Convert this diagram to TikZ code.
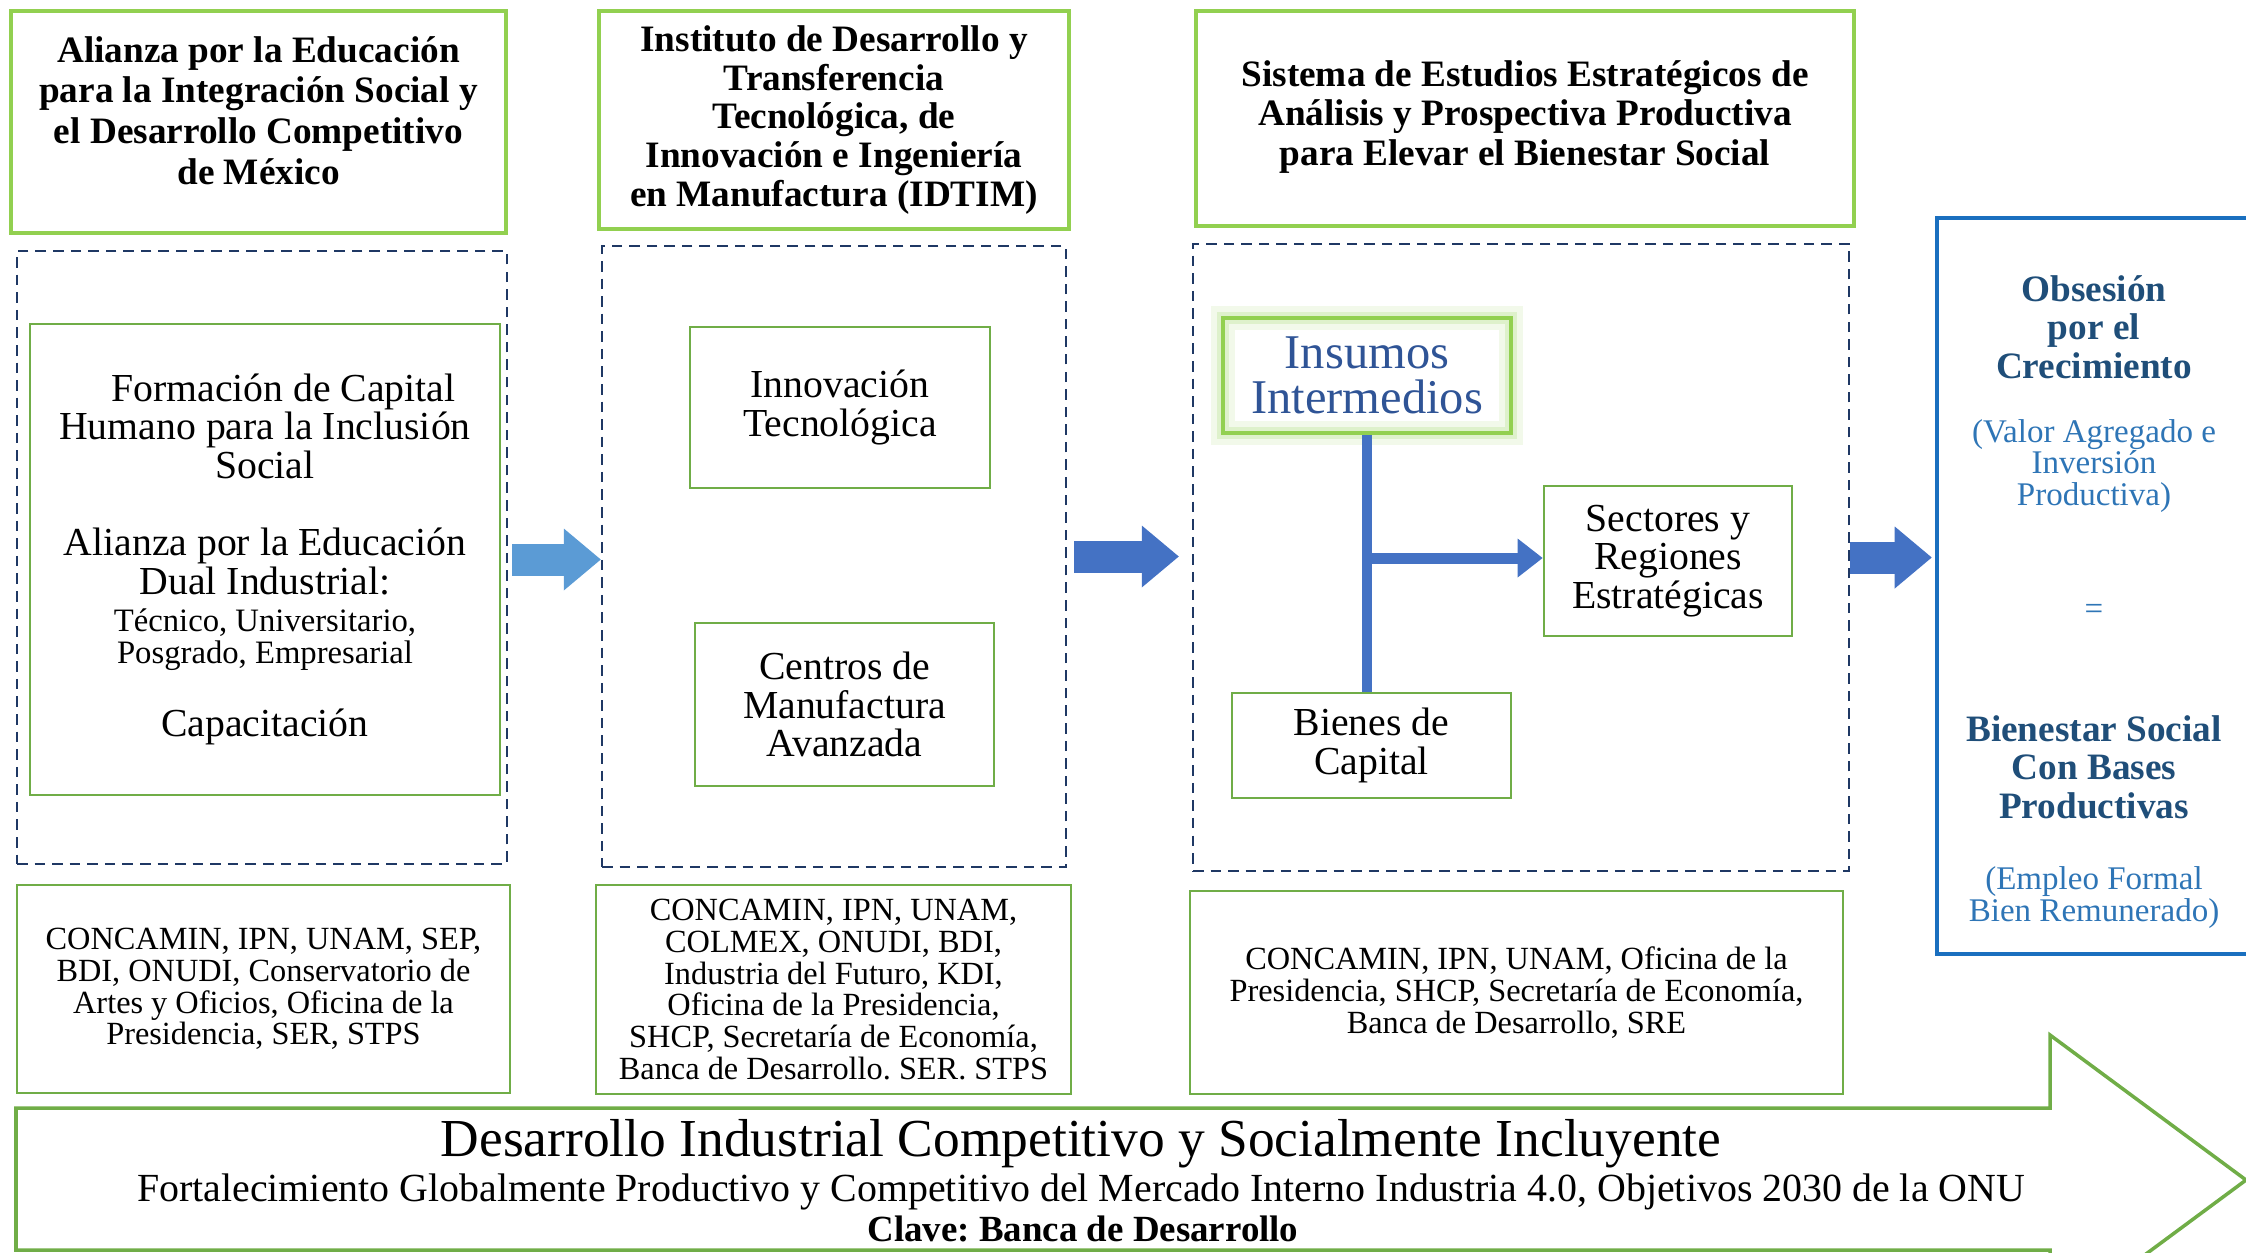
\documentclass[tikz,border=0pt]{standalone}
\usepackage{fontspec}
\setmainfont{Liberation Serif}
\usepackage{xcolor}
\definecolor{DIlime}{HTML}{92D050}
\definecolor{DIgreen}{HTML}{70AD47}
\definecolor{DInavy}{HTML}{1F3864}
\definecolor{DIsky}{HTML}{5B9BD5}
\definecolor{DIblue}{HTML}{4472C4}
\definecolor{DIframe}{HTML}{1A6FBF}
\definecolor{DIdeep}{HTML}{1F4E79}
\definecolor{DItext}{HTML}{2E75B6}
\definecolor{DIins}{HTML}{2F5496}
\usetikzlibrary{arrows.meta, calc}
\frenchspacing

\begin{document}
\begin{tikzpicture}[
    headbox/.style={draw=DIlime, line width=0.9pt, align=center, inner sep=2pt,
      font=\fontsize{10.6}{11.6}\selectfont\bfseries},
    dashbox/.style={draw=DInavy, line width=0.7pt, dash pattern=on 3pt off 2pt},
    itembox/.style={draw=DIgreen, line width=0.8pt, align=center, inner sep=2pt,
      font=\fontsize{11.3}{11}\selectfont},
    orgbox/.style={draw=DIgreen, line width=0.8pt, align=center, inner sep=2pt,
      font=\fontsize{9.2}{9}\selectfont},
    glow/.style={preaction={draw=DIlime!12, line width=7pt},
      preaction={draw=DIlime!30, line width=3.5pt}},
    flowarrow/.style={line width=0.32cm,
      -{Triangle[length=0.37cm, width=0.62cm, line width=0pt]}},
    branch/.style={DIblue, line width=0.10cm},
    brancharrow/.style={DIblue, line width=0.11cm,
      -{Triangle[length=0.25cm, width=0.39cm, line width=0pt]}},
    goaltext/.style={align=center, text=DIdeep, font=\fontsize{10.6}{11}\selectfont\bfseries},
    goalnote/.style={align=center, text=DItext, font=\fontsize{9.4}{9}\selectfont}
  ]
    \useasboundingbox (0,0) rectangle (22.46,-12.52);
    \clip (0,0) rectangle (22.46,-12.52);

    % titles
    \node[headbox, minimum width=4.95cm, minimum height=2.22cm] (H1) at (2.585,-1.22)
      {Alianza por la Educación\\ para la Integración Social y\\
       el Desarrollo Competitivo\\ de México\\[-5pt]{}};
    \node[headbox, minimum width=4.70cm, minimum height=2.18cm,
      font=\fontsize{10.6}{11}\selectfont\bfseries] (H2) at (8.34,-1.20)
      {Instituto de Desarrollo y\\ Transferencia\\ Tecnológica, de\\
       Innovación e Ingeniería\\ en Manufactura (IDTIM)};
    \node[headbox, minimum width=6.58cm, minimum height=2.15cm,
      font=\fontsize{10.6}{11.2}\selectfont\bfseries] (H3) at (15.25,-1.185)
      {Sistema de Estudios Estratégicos de\\ Análisis y Prospectiva Productiva\\
       para Elevar el Bienestar Social\\[-8pt]{}};

    % dashed groups
    \node[dashbox, minimum width=4.90cm, minimum height=6.13cm] (D1) at (2.62,-5.575) {};
    \node[dashbox, minimum width=4.64cm, minimum height=6.21cm] (D2) at (8.34,-5.565) {};
    \node[dashbox, minimum width=6.56cm, minimum height=6.27cm] (D3) at (15.21,-5.575) {};

    % contents
    \node[itembox, minimum width=4.70cm, minimum height=4.71cm] (form) at (2.65,-5.595)
      {\hspace*{0.37cm}Formación de Capital\\ Humano para la Inclusión\\ Social\\[11pt]
       Alianza por la Educación\\ Dual Industrial:\\[-0.5pt]
       {\fontsize{9.3}{9}\selectfont Técnico, Universitario,}\\[-2pt]
       {\fontsize{9.3}{9}\selectfont Posgrado, Empresarial}\\[10pt]
       Capacitación};
    \node[itembox, minimum width=3.00cm, minimum height=1.61cm] (innov) at (8.40,-4.075)
      {Innovación\\ Tecnológica};
    \node[itembox, minimum width=2.99cm, minimum height=1.63cm] (centros) at (8.445,-7.045)
      {Centros de\\ Manufactura\\ Avanzada};
    \node[itembox, glow, draw=DIlime, line width=1pt, minimum width=2.88cm,
      minimum height=1.15cm, text=DIins, font=\fontsize{13.8}{13}\selectfont] (ins)
      at (13.67,-3.755) {Insumos\\ Intermedios};
    \node[itembox, minimum width=2.48cm, minimum height=1.50cm] (sec) at (16.68,-5.61)
      {Sectores y\\ Regiones\\ Estratégicas};
    \node[itembox, minimum width=2.79cm, minimum height=1.05cm] (bien) at (13.715,-7.455)
      {Bienes de\\ Capital};

    \draw[branch] (ins.south) -- (ins.south |- bien.north);
    \coordinate (tj) at ($(ins.south |- sec.west)+(0,0.03)$);
    \draw[brancharrow] (tj) -- (tj -| sec.west);

    % participants
    \node[orgbox, minimum width=4.93cm, minimum height=2.08cm] (O1) at (2.635,-9.89)
      {CONCAMIN, IPN, UNAM, SEP,\\ BDI, ONUDI, Conservatorio de\\
       Artes y Oficios, Oficina de la\\ Presidencia, SER, STPS};
    \node[orgbox, minimum width=4.75cm, minimum height=2.09cm] (O2) at (8.335,-9.895)
      {CONCAMIN, IPN, UNAM,\\ COLMEX, ONUDI, BDI,\\ Industria del Futuro, KDI,\\
       Oficina de la Presidencia,\\ SHCP, Secretaría de Economía,\\
       Banca de Desarrollo. SER. STPS};
    \node[orgbox, minimum width=6.53cm, minimum height=2.03cm] (O3) at (15.165,-9.925)
      {CONCAMIN, IPN, UNAM, Oficina de la\\ Presidencia, SHCP, Secretaría de Economía,\\
       Banca de Desarrollo, SRE};

    % goal
    \node[draw=DIframe, line width=1.3pt, minimum width=3.18cm, minimum height=7.36cm]
      (meta) at (20.96,-5.86) {};
    \node[goaltext] (obs) at (20.94,-3.27) {Obsesión\\ por el\\ Crecimiento};
    \node[goalnote] (valor) at (20.94,-4.66) {(Valor Agregado e\\ Inversión\\ Productiva)};
    \node[goalnote] (igual) at (20.94,-6.12) {=};
    \node[goaltext] (bienestar) at (20.94,-7.67) {Bienestar Social\\ Con Bases\\ Productivas};
    \node[goalnote] (empleo) at (20.94,-8.975) {(Empleo Formal\\ Bien Remunerado)};

    % flow
    \draw[flowarrow, DIsky] ($(D1.east)+(0.04,-0.02)$) -- ($(D1.east -| D2.west)+(0,-0.02)$);
    \draw[flowarrow, DIblue] ($(D2.east)+(0.07,0)$) -- ($(D2.east -| D3.west)+(-0.13,0)$);
    \draw[flowarrow, DIblue] (D3.east) -- ($(D3.east -| meta.west)+(-0.03,0)$);

    % base arrow
    \draw[DIgreen, line width=1pt] (0.16,-11.08) -- (20.50,-11.08) -- (20.50,-10.35)
      -- (22.46,-11.80) -- (20.50,-13.25) -- (20.50,-12.50) -- (0.16,-12.50) -- cycle;
    \node[font=\fontsize{15.2}{16}\selectfont] (lema) at (10.81,-11.44)
      {Desarrollo Industrial Competitivo y Socialmente Incluyente};
    \node[font=\fontsize{11.35}{12}\selectfont] (fort) at (10.81,-11.92)
      {Fortalecimiento Globalmente Productivo y Competitivo del Mercado Interno Industria 4.0, Objetivos 2030 de la ONU};
    \node[font=\fontsize{10.5}{12}\selectfont\bfseries] (clave) at (10.83,-12.29)
      {Clave: Banca de Desarrollo};
  \end{tikzpicture}
\end{document}
